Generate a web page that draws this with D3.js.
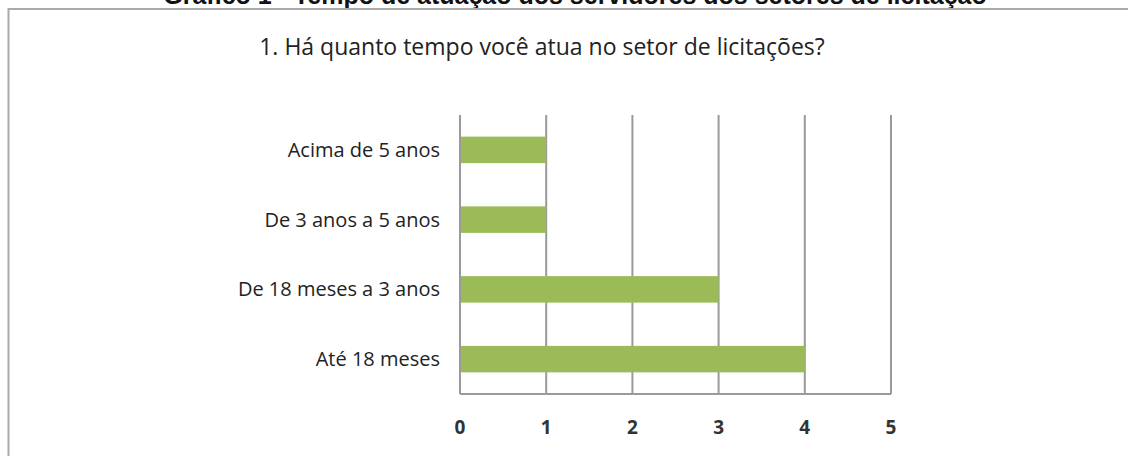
<!DOCTYPE html>
<html>
<head>
<meta charset="utf-8">
<script src="https://cdn.jsdelivr.net/npm/d3@7"></script>
<style>
  body { margin: 0; background: #fff; }
  svg { display: block; }
</style>
</head>
<body>
<div id="chart"></div>
<script>
// survey answers, top to bottom as drawn
var categories = ['Acima de 5 anos', 'De 3 anos a 5 anos', 'De 18 meses a 3 anos', 'Até 18 meses'];
var values = [1, 1, 3, 4];
var xTicks = [0, 1, 2, 3, 4, 5];
var caption = 'Gráfico 1 - Tempo de atuação dos servidores dos setores de licitação';
var title = '1. Há quanto tempo você atua no setor de licitações?';

var W = 1128, H = 456;
var margin = {top: 115, right: 237, bottom: 62, left: 460};
var width = W - margin.left - margin.right,
    height = H - margin.top - margin.bottom;

var svg = d3.select('#chart')
    .append('svg')
    .attr('width', W)
    .attr('height', H);

// caption above the frame (cut off at top in the original picture)
svg.append('text')
    .attr('x', 575)
    .attr('y', 4)
    .attr('text-anchor', 'middle')
    .style('font-family', 'Liberation Sans, Arial, sans-serif')
    .style('font-weight', 'bold')
    .style('font-size', '25px')
    .style('fill', '#111')
    .text(caption);

// frame: only top and left edges show
svg.append('path')
    .attr('d', 'M8.5,' + H + 'V9H' + W)
    .attr('fill', 'none')
    .attr('stroke', '#aaa')
    .attr('stroke-width', 2);

svg.append('text')
    .attr('x', 542)
    .attr('y', 55)
    .attr('text-anchor', 'middle')
    .style('font-family', 'Open Sans, sans-serif')
    .style('font-size', '23px')
    .style('fill', '#222')
    .text(title);

var g = svg.append('g')
    .attr('transform', 'translate(' + margin.left + ',' + margin.top + ')');

var x = d3.scaleLinear()
    .domain([0, 5])
    .range([0, width]);

var y = d3.scaleBand()
    .domain(categories)
    .range([0, height])
    .paddingInner(0.62)
    .paddingOuter(0.31);

// vertical gridlines
g.selectAll('line.grid')
    .data(xTicks)
    .enter().append('line')
    .attr('class', 'grid')
    .attr('x1', function(d) { return x(d); })
    .attr('x2', function(d) { return x(d); })
    .attr('y1', 0)
    .attr('y2', height)
    .attr('stroke', '#9a9a9a')
    .attr('stroke-width', 2);

g.append('line')
    .attr('x1', 0).attr('x2', width)
    .attr('y1', height).attr('y2', height)
    .attr('stroke', '#9a9a9a')
    .attr('stroke-width', 2);

g.selectAll('rect.bar')
    .data(values)
    .enter().append('rect')
    .attr('class', 'bar')
    .attr('x', x(0) + 1)
    .attr('y', function(d, i) { return y(categories[i]); })
    .attr('width', function(d) { return x(d) - x(0) - 1; })
    .attr('height', y.bandwidth())
    .attr('fill', '#9bbb59');

// category labels
g.selectAll('text.cat')
    .data(categories)
    .enter().append('text')
    .attr('class', 'cat')
    .attr('x', -20)
    .attr('y', function(d) { return y(d) + y.bandwidth() / 2; })
    .attr('dy', '0.35em')
    .attr('text-anchor', 'end')
    .style('font-family', 'Open Sans, sans-serif')
    .style('font-size', '20px')
    .style('fill', '#222')
    .text(function(d) { return d; });

// tick labels
g.selectAll('text.tick')
    .data(xTicks)
    .enter().append('text')
    .attr('class', 'tick')
    .attr('x', function(d) { return x(d); })
    .attr('y', height + 33)
    .attr('dy', '0.35em')
    .attr('text-anchor', 'middle')
    .style('font-family', 'Open Sans, sans-serif')
    .style('font-weight', 'bold')
    .style('font-size', '19px')
    .style('fill', '#333')
    .text(function(d) { return d; });
</script>
</body>
</html>
